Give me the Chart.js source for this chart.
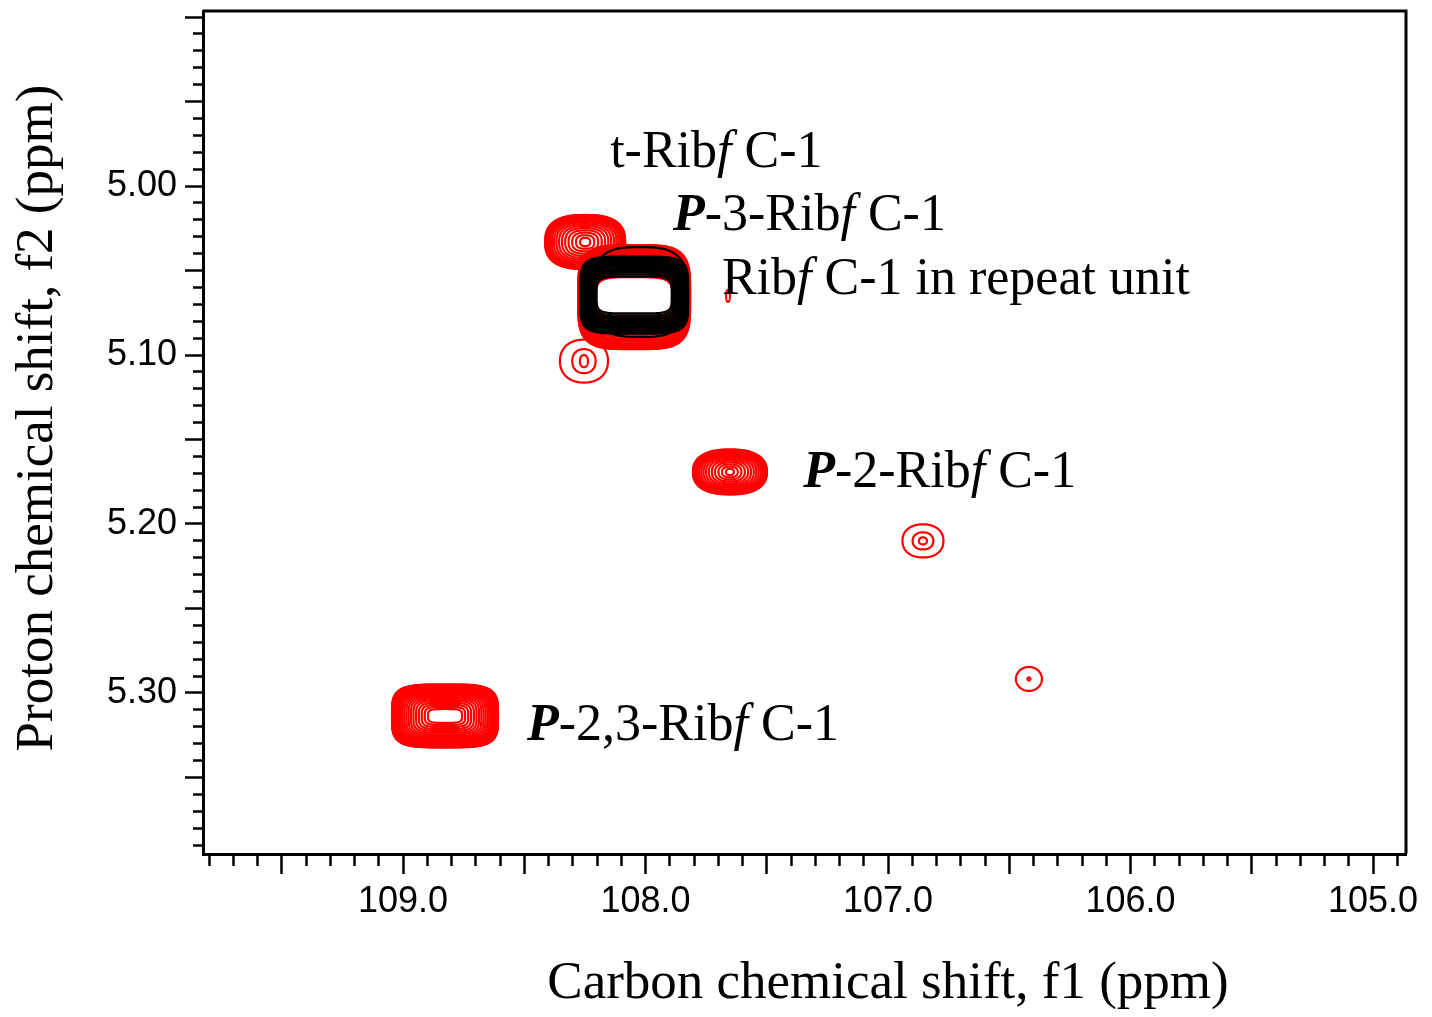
<!DOCTYPE html>
<html lang="en">
<head>
<meta charset="UTF-8" />
<title>HSQC overlay, anomeric region</title>
<script src="https://cdn.jsdelivr.net/npm/chart.js@4"></script>
<style>
  html, body { margin: 0; padding: 0; background: #fff; }
</style>
</head>
<body>
<canvas id="hsqc" width="1432" height="1017"></canvas>
<script>
// cross peaks (ppm); spectrum 0 = red, 1 = black overlay
const peakCarbon  = [108.827, 107.652, 106.856, 106.419, 108.254, 108.249, 108.047, 108.047, 107.660, 108.023];
const peakProton  = [5.3136, 5.1692, 5.2100, 5.2917, 5.1036, 5.0331, 5.0657, 5.0645, 5.0650, 5.0627];
const halfWidthC  = [0.2186, 0.1526, 0.0845, 0.0536, 0.0990, 0.1650, 0.2310, 0.2227, 0.0080, 0.1980];
const halfWidthH  = [0.0186, 0.0133, 0.0098, 0.0071, 0.0127, 0.0160, 0.0308, 0.0228, 0.0036, 0.0266];
const coreWidthC  = [0.0701, 0.0165, 0.0165, 0.0062, 0.0165, 0.0206, 0.1570, 0.1550, 0.0080, 0.1980];
const coreWidthH  = [0.0041, 0.0018, 0.0021, 0.0009, 0.0036, 0.0024, 0.0118, 0.0109, 0.0036, 0.0266];
const contourLevels = [22, 16, 3, 2, 3, 16, 20, 16, 1, 1];
const spectrum    = [0, 0, 0, 0, 0, 0, 0, 1, 0, 1];

const carbonTicks = [109.0, 108.0, 107.0, 106.0, 105.0];
const protonTicks = [5.00, 5.10, 5.20, 5.30];

// peak assignments: [..] bold italic, {..} italic
const labelText   = ['t-Rib{f} C-1', '[P]-3-Rib{f} C-1', 'Rib{f} C-1 in repeat unit', '[P]-2-Rib{f} C-1', '[P]-2,3-Rib{f} C-1'];
const labelCarbon = [108.146, 107.887, 107.685, 107.350, 108.489];
const labelProton = [4.9888, 5.0260, 5.0640, 5.1780, 5.3280];

// styling
const spectrumColors = ['#ff0000', '#000000'];
const peakShape = [4, 2.4, 2.2, 2, 2.2, 2.6, 4, 5, 2, 3];
const ringPower = [1.9, 1.8, 0.7, 1, 0.7, 1.8, 1.7, 1.5, 1, 1];
const serif = '"Liberation Serif", "Times New Roman", serif';
const sans = '"Liberation Sans", Arial, sans-serif';

function superEllipse(ctx, cx, cy, rx, ry, n) {
  ctx.beginPath();
  for (let k = 0; k <= 96; k++) {
    const a = k / 96 * Math.PI * 2;
    const c = Math.cos(a), s = Math.sin(a);
    const px = cx + rx * Math.sign(c) * Math.pow(Math.abs(c), 2 / n);
    const py = cy + ry * Math.sign(s) * Math.pow(Math.abs(s), 2 / n);
    if (k === 0) ctx.moveTo(px, py); else ctx.lineTo(px, py);
  }
  ctx.closePath();
}

const contours = {
  id: 'contours',
  beforeDatasetsDraw(chart) {
    const { ctx, chartArea: a, scales: { x, y } } = chart;
    ctx.save();
    ctx.beginPath();
    ctx.rect(a.left, a.top, a.width, a.height);
    ctx.clip();
    ctx.lineWidth = 2.2;
    ctx.lineJoin = 'round';
    [0, 1].forEach(sp => {
      ctx.strokeStyle = spectrumColors[sp];
      peakCarbon.forEach((c, i) => {
        if (spectrum[i] !== sp) return;
        const h = peakProton[i];
        const cx = x.getPixelForValue(c), cy = y.getPixelForValue(h);
        const ox = Math.abs(x.getPixelForValue(c + halfWidthC[i]) - cx);
        const oy = Math.abs(y.getPixelForValue(h + halfWidthH[i]) - cy);
        const ix = Math.abs(x.getPixelForValue(c + coreWidthC[i]) - cx);
        const iy = Math.abs(y.getPixelForValue(h + coreWidthH[i]) - cy);
        const n = contourLevels[i];
        for (let j = 0; j < n; j++) {
          const t = n === 1 ? 0 : Math.pow(j / (n - 1), ringPower[i]);
          superEllipse(ctx, cx, cy, ox + (ix - ox) * t, oy + (iy - oy) * t, peakShape[i]);
          ctx.stroke();
        }
      });
    });
    ctx.restore();
  },
  afterDatasetsDraw(chart) {
    const { ctx, chartArea: a, scales: { x, y } } = chart;
    ctx.save();
    ctx.fillStyle = '#000';
    ctx.textBaseline = 'alphabetic';
    ctx.textAlign = 'left';
    labelText.forEach((txt, i) => {
      let px = x.getPixelForValue(labelCarbon[i]);
      const py = y.getPixelForValue(labelProton[i]);
      txt.split(/(\[[^\]]+\]|\{[^}]+\})/).forEach(seg => {
        if (!seg) return;
        let font = '52px ' + serif;
        if (seg[0] === '[') { font = 'italic bold 52px ' + serif; seg = seg.slice(1, -1); }
        else if (seg[0] === '{') { font = 'italic 52px ' + serif; seg = seg.slice(1, -1); }
        ctx.font = font;
        ctx.fillText(seg, px, py);
        px += ctx.measureText(seg).width;
      });
    });
    // frame: top and right sides
    ctx.strokeStyle = '#000';
    ctx.lineWidth = 3;
    ctx.beginPath();
    ctx.moveTo(a.left, a.top);
    ctx.lineTo(a.right, a.top);
    ctx.lineTo(a.right, a.bottom);
    ctx.stroke();
    // axis titles
    ctx.font = '53px ' + serif;
    ctx.textAlign = 'center';
    ctx.fillText('Carbon chemical shift, f1 (ppm)', 888, 998);
    ctx.translate(52, 418);
    ctx.rotate(-Math.PI / 2);
    ctx.fillText('Proton chemical shift, f2 (ppm)', 0, 0);
    ctx.restore();
  }
};

const datasets = [0, 1].map(sp => ({
  label: sp ? 'black spectrum' : 'red spectrum',
  data: peakCarbon.map((c, i) => ({ x: c, y: peakProton[i] })).filter((p, i) => spectrum[i] === sp),
  pointRadius: 0,
  showLine: false
}));

const near = (v, list) => list.some(t => Math.abs(t - v) < 1e-6);

new Chart(document.getElementById('hsqc'), {
  type: 'scatter',
  data: { datasets },
  options: {
    responsive: false,
    animation: false,
    devicePixelRatio: 1,
    layout: { padding: { top: 11, right: 26, left: 0, bottom: 0 } },
    plugins: { legend: { display: false }, tooltip: { enabled: false } },
    scales: {
      x: {
        type: 'linear',
        reverse: true,
        min: 104.864,
        max: 109.825,
        afterBuildTicks: s => {
          const t = [];
          for (let k = 1049; k <= 1098; k++) t.push({ value: k / 10 });
          s.ticks = t;
        },
        afterFit: s => { s.height = 163; s.paddingLeft = 0; s.paddingRight = 0; },
        ticks: {
          autoSkip: false,
          maxRotation: 0,
          padding: 6,
          color: '#000',
          font: { family: sans, size: 36 },
          callback: v => near(v, carbonTicks) ? v.toFixed(1) : ''
        },
        grid: {
          drawOnChartArea: false,
          tickLength: 20,
          tickWidth: 2.5,
          tickColor: '#000',
          tickBorderDash: c => (Math.round(c.tick.value * 10) % 5 === 0) ? [] : [10, 100]
        },
        border: { color: '#000', width: 3 }
      },
      y: {
        type: 'linear',
        reverse: true,
        min: 4.8964,
        max: 5.3953,
        afterBuildTicks: s => {
          const t = [];
          for (let k = 490; k <= 539; k++) t.push({ value: k / 100 });
          s.ticks = t;
        },
        afterFit: s => { s.width = 203; s.paddingTop = 0; s.paddingBottom = 0; },
        ticks: {
          autoSkip: false,
          padding: 8,
          color: '#000',
          font: { family: sans, size: 36 },
          callback: v => near(v, protonTicks) ? v.toFixed(2) : ''
        },
        grid: {
          drawOnChartArea: false,
          tickLength: 18,
          tickWidth: 2.5,
          tickColor: '#000',
          tickBorderDash: c => (Math.round(c.tick.value * 100) % 5 === 0) ? [] : [0, 8, 10, 100]
        },
        border: { color: '#000', width: 3 }
      }
    }
  },
  plugins: [contours]
});
</script>
</body>
</html>
